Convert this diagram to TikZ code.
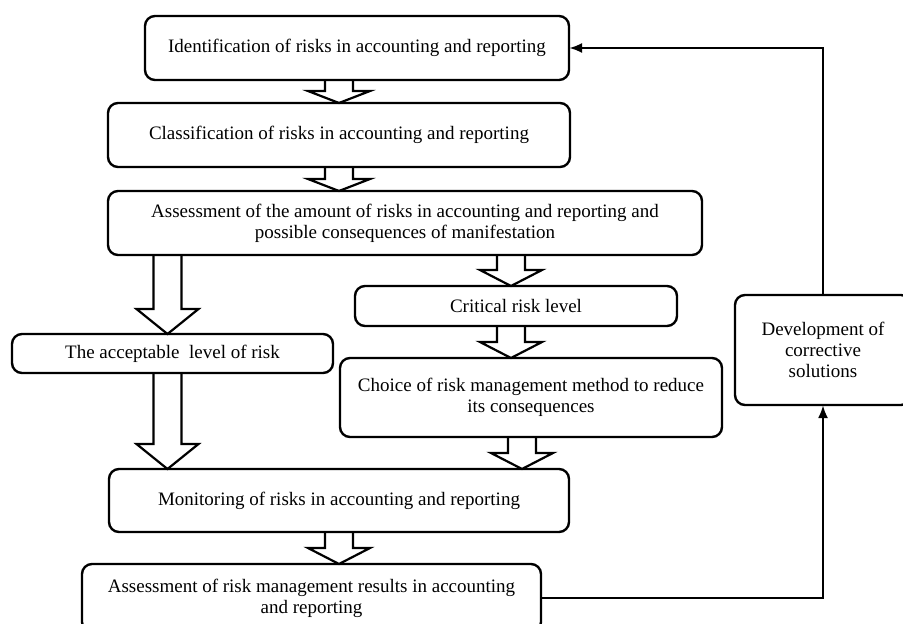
\documentclass[tikz,border=0pt]{standalone}
\usepackage{fontspec}
\setmainfont{Liberation Serif}
\usetikzlibrary{positioning,calc,arrows.meta}

% hollow block arrow: x of the shaft, from node, to node, head length
\newcommand{\fatarrow}[4]{\draw[hollowarrow] let \p1=(#2.south), \p2=(#3.north) in
    ({#1pt-14pt},\y1) -- ({#1pt-14pt},{\y2+#4pt}) -- ({#1pt-31pt},{\y2+#4pt}) -- (#1pt,\y2)
    -- ({#1pt+31pt},{\y2+#4pt}) -- ({#1pt+14pt},{\y2+#4pt}) -- ({#1pt+14pt},\y1);}

\begin{document}
\begin{tikzpicture}[x=1pt, y=-1pt,
                    blocknode/.style={rectangle, rounded corners=10pt, draw=black, line width=2.4pt,
                                      inner sep=0pt, outer sep=0pt, align=center,
                                      font=\fontsize{19pt}{21pt}\selectfont},
                    hollowarrow/.style={draw=black, line width=2.2pt},
                    feedline/.style={draw=black, line width=2.6pt, -{Latex[length=13pt,width=10pt]}}]
    \useasboundingbox (0,0) rectangle (903,624);
    \node[blocknode, minimum width=424pt, minimum height=64pt] (1) at (357,48) {Identification of risks in accounting and reporting};
    \node[blocknode, minimum width=462pt, minimum height=64pt] (2) [below=23pt of 1, xshift=-18pt] {Classification of risks in accounting and reporting};
    \node[blocknode, minimum width=594pt, minimum height=64pt] (3) [below=24pt of 2, xshift=66pt] {Assessment of the amount of risks in accounting and reporting and\\possible consequences of manifestation};
    \node[blocknode, minimum width=322pt, minimum height=40pt] (4) [below=31pt of 3, xshift=111pt] {Critical risk level};
    \node[blocknode, minimum width=321pt, minimum height=39pt] (5) [below=79pt of 3, xshift=-232.5pt] {The acceptable\ \ level of risk};
    \node[blocknode, minimum width=382pt, minimum height=79pt] (6) [below=32pt of 4, xshift=15pt] {Choice of risk management method to reduce\\its consequences};
    \node[blocknode, minimum width=176pt, minimum height=110pt] (7) at (823,350) {Development of\\corrective\\solutions};
    \node[blocknode, minimum width=460pt, minimum height=63pt] (8) [below=96pt of 5, xshift=166.5pt] {Monitoring of risks in accounting and reporting};
    \node[blocknode, minimum width=459pt, minimum height=68pt] (9) [below=32pt of 8, xshift=-27.5pt] {Assessment of risk management results in accounting\\and reporting};
    \fatarrow{339}{1}{2}{12}
    \fatarrow{339}{2}{3}{12}
    \fatarrow{511}{3}{4}{16}
    \fatarrow{511}{4}{6}{16}
    \fatarrow{167.5}{3}{5}{25}
    \fatarrow{167.5}{5}{8}{25}
    \fatarrow{522}{6}{8}{16}
    \fatarrow{339}{8}{9}{16}
    \draw[feedline] (9.east) -| (7.south);
    \draw[feedline] (7.north) |- (1.east);
\end{tikzpicture}
\end{document}
